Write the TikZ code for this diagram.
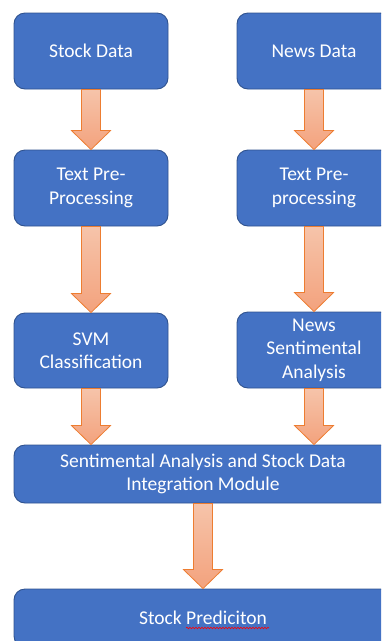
\documentclass[tikz,border=0pt]{standalone}
\usepackage{fontspec}
\setmainfont{Carlito}
\usetikzlibrary{calc,decorations.pathmorphing}

\definecolor{boxfill}{HTML}{4472C4}
\definecolor{boxline}{HTML}{2F528F}
\definecolor{arrowline}{HTML}{ED7D31}
\definecolor{arrowtop}{RGB}{246,196,170}
\definecolor{arrowbot}{RGB}{243,162,125}

\tikzset{
  stage/.style={rectangle, rounded corners=11pt, draw=boxline, line width=0.9pt,
    fill=boxfill, text=white, align=center, minimum width=154pt,
    minimum height=76pt, inner sep=2pt,
    font=\fontsize{19.5}{23.5}\selectfont},
  widestage/.style={stage, minimum width=378pt, minimum height=58pt},
  flow/.style={draw=arrowline, line width=0.8pt, top color=arrowtop,
    bottom color=arrowbot, line join=miter}
}

% block arrow: x taken from the source node, tip on the target's top edge
\newcommand\flowarrow[2]{%
  \path let \p1=(#1.south), \p2=(#2.north) in
    [flow] (\x1-9.5pt,\y1) -- (\x1-9.5pt,\y2+19pt) -- (\x1-19.5pt,\y2+19pt)
    -- (\x1,\y2) -- (\x1+19.5pt,\y2+19pt) -- (\x1+9.5pt,\y2+19pt)
    -- (\x1+9.5pt,\y1) -- cycle;}

\begin{document}
\begin{tikzpicture}[x=1pt,y=1pt]
\useasboundingbox (0,0) rectangle (381,-641);
\clip (0,0) rectangle (381,-641);

\node[stage] (sd)  at (91,-51)    {Stock Data};
\node[stage] (nd)  at (314,-51)   {News Data};
\node[stage] (tp1) at (91,-188)   {Text Pre-\\Processing};
\node[stage] (tp2) at (314,-188)  {Text Pre-\\processing};
\node[stage, minimum height=75pt] (svm) at (91,-350.5) {SVM\\Classification};
\node[stage] (nsa) at (314,-350)  {News\\Sentimental\\Analysis};
\node[widestage] (integ) at (203,-474) {Sentimental Analysis and Stock Data\\Integration Module};
\node[widestage] (pred)  at (203,-618) {Stock Prediciton};

\flowarrow{sd}{tp1}
\flowarrow{nd}{tp2}
\flowarrow{tp1}{svm}
\flowarrow{tp2}{nsa}
\flowarrow{svm}{integ}
\flowarrow{nsa}{integ}
\flowarrow{integ}{pred}

% spell-check squiggle under the misspelt word
\draw[red, line width=0.6pt, decorate,
      decoration={snake, amplitude=0.8pt, segment length=3pt}]
  ($(pred.center)+(-17,-10)$) -- ($(pred.center)+(66,-10)$);
\end{tikzpicture}
\end{document}
